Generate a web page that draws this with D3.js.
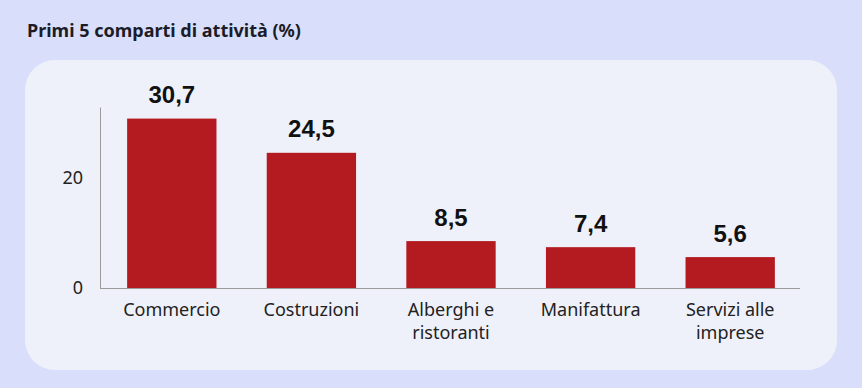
<!DOCTYPE html>
<html><head><meta charset="utf-8">
<script src="https://cdn.jsdelivr.net/npm/d3@7"></script>
<style>html,body{margin:0;padding:0;background:#d9dffb;}svg{display:block;}</style>
</head><body>
<script>
const title = "Primi 5 comparti di attività (%)";
const categories = [["Commercio"],["Costruzioni"],["Alberghi e","ristoranti"],["Manifattura"],["Servizi alle","imprese"]];
const values = [30.7, 24.5, 8.5, 7.4, 5.6];
const valueLabels = ["30,7","24,5","8,5","7,4","5,6"];
const yTicks = [0, 20];

const W = 862, H = 388;
const svg = d3.select("body").append("svg").attr("width", W).attr("height", H);
svg.append("rect").attr("width", W).attr("height", H).attr("fill", "#d9dffb");
svg.append("rect").attr("x", 25).attr("y", 60).attr("width", 812).attr("height", 310)
  .attr("rx", 30).attr("fill", "#eff1fa");
svg.append("text").attr("x", 27).attr("y", 37).text(title)
  .attr("font-family", "Noto Sans").attr("font-weight", "bold").attr("font-size", 18).attr("fill", "#1c1c28");

const x = d3.scaleBand().domain(d3.range(values.length)).range([102, 800]).paddingInner(0.36).paddingOuter(0.18);
const y = d3.scaleLinear().domain([0, 32.8]).range([288, 107]);

const g = svg.append("g");
g.selectAll("rect.bar").data(values).join("rect").attr("class", "bar")
  .attr("x", (d, i) => x(i)).attr("width", x.bandwidth())
  .attr("y", d => y(d)).attr("height", d => y(0) - y(d)).attr("fill", "#b31b21");

g.selectAll("text.val").data(values).join("text").attr("class", "val")
  .attr("x", (d, i) => x(i) + x.bandwidth() / 2).attr("y", d => y(d) - 15.4)
  .attr("text-anchor", "middle").attr("font-family", "Liberation Sans").attr("font-weight", "bold")
  .attr("font-size", 24).attr("fill", "#111").text((d, i) => valueLabels[i]);

// axes
const yAxis = d3.axisLeft(y).tickValues(yTicks).tickSize(0).tickPadding(17).tickFormat(d3.format("d"));
const ya = svg.append("g").attr("transform", "translate(100,0)").call(yAxis);
ya.select(".domain").attr("stroke", "#9a9a9a");
ya.selectAll("text").attr("font-family", "Noto Sans").attr("font-size", 18).attr("fill", "#222");

const xAxis = d3.axisBottom(x).tickSize(0).tickFormat("");
const xa = svg.append("g").attr("transform", "translate(0,288)").call(xAxis);
xa.select(".domain").attr("stroke", "#9a9a9a").attr("d", "M100,0.5H800");
xa.selectAll(".tick").each(function(d) {
  const t = d3.select(this).append("text").attr("text-anchor", "middle")
    .attr("font-family", "Noto Sans").attr("font-size", 18).attr("fill", "#222");
  categories[d].forEach((line, k) => {
    t.append("tspan").attr("x", 0).attr("y", 28 + k * 23).text(line);
  });
});
</script>
</body></html>
